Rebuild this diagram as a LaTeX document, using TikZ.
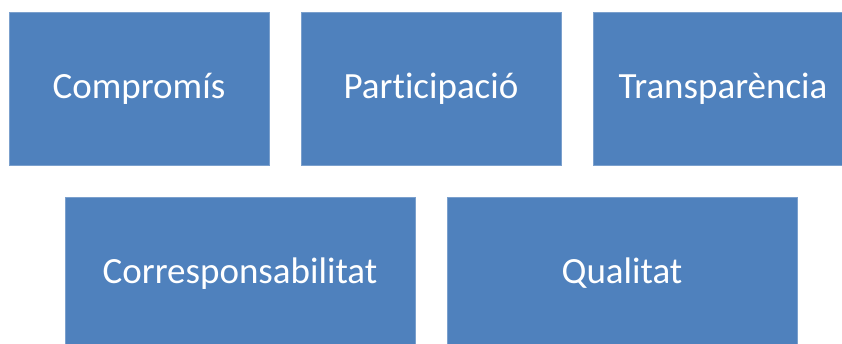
\documentclass[tikz,border=0pt]{standalone}
\usepackage{fontspec}
\setmainfont[Ligatures=CommonOff]{Carlito}
\usetikzlibrary{positioning}

\definecolor{boxblue}{HTML}{4F81BD}

\begin{document}
\begin{tikzpicture}[
    node distance=32pt,
    every node/.style={font=\fontsize{37}{44}\selectfont},
    box/.style={
        rectangle,
        draw=boxblue!75!white,
        fill=boxblue,
        text=white,
        minimum width=260pt,
        minimum height=153pt,
        inner sep=0pt,
        outer sep=0pt,
        line width=0.6pt
    },
    widebox/.style={box, minimum width=350pt}
]
\useasboundingbox (0,0) rectangle (842pt,344pt);
\clip (0,0) rectangle (842pt,344pt);

% ==================== TOP ROW ====================
\node[box] (comp) at (139pt,255.5pt) {Compromís};
\node[box, right=of comp] (part) {Participació};
\node[box, right=of part] (transp) {Transparència};

% ==================== BOTTOM ROW ====================
\node[widebox, anchor=north west] (coresp) at ([xshift=56pt, yshift=-32pt]comp.south west) {Corresponsabilitat};
\node[widebox, right=of coresp] (qual) {Qualitat};

\end{tikzpicture}
\end{document}
